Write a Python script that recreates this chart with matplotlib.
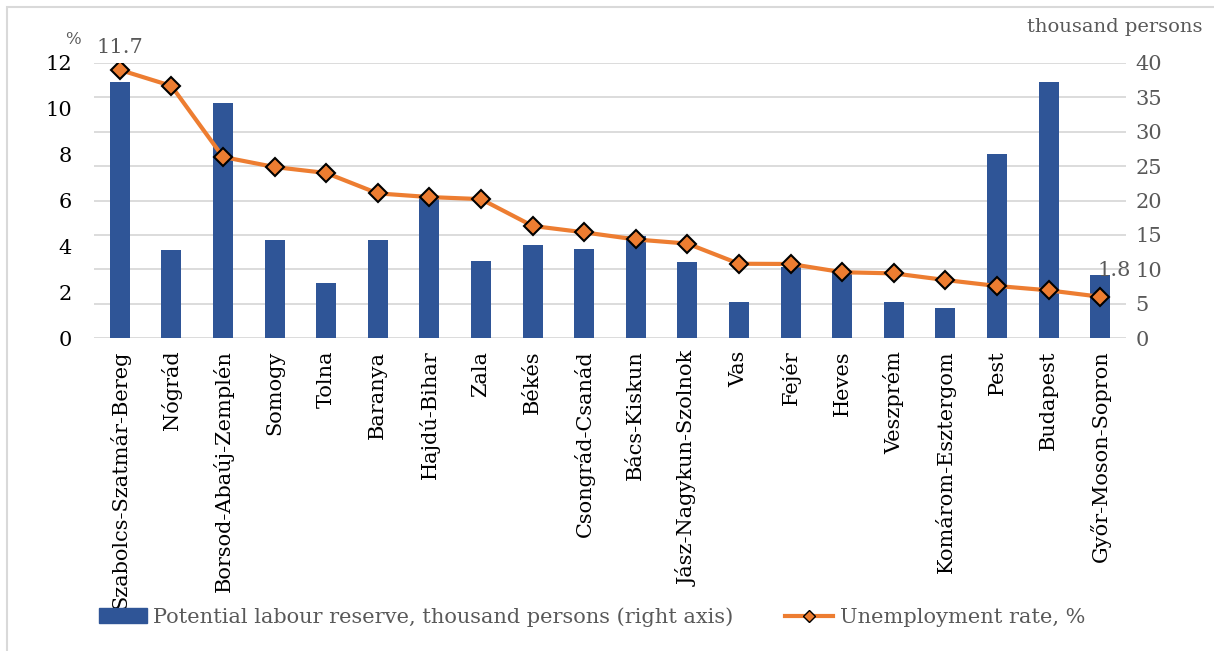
"""
Unemployment rate and potential labour reserve by county
"""

import matplotlib
matplotlib.use('Agg')
import matplotlib.pyplot as plt
from matplotlib.patches import Rectangle
from matplotlib.lines import Line2D
from matplotlib.patches import Patch

counties = ['Szabolcs-Szatmár-Bereg', 'Nógrád', 'Borsod-Abaúj-Zemplén', 'Somogy', 'Tolna',
            'Baranya', 'Hajdú-Bihar', 'Zala', 'Békés', 'Csongrád-Csanád', 'Bács-Kiskun',
            'Jász-Nagykun-Szolnok', 'Vas', 'Fejér', 'Heves', 'Veszprém', 'Komárom-Esztergom',
            'Pest', 'Budapest', 'Győr-Moson-Sopron']

# thousand persons (right axis)
labour_reserve = [37.2, 12.8, 34.2, 14.2, 8.0, 14.3, 20.3, 11.2, 13.6, 13.0,
                  14.8, 11.0, 5.2, 10.4, 9.4, 5.2, 4.3, 26.7, 37.2, 9.1]

# %
unemployment = [11.7, 11.0, 7.9, 7.46, 7.2, 6.31, 6.15, 6.06, 4.89, 4.61,
                4.3, 4.12, 3.24, 3.23, 2.87, 2.82, 2.53, 2.27, 2.08, 1.8]

left_ticks = [0, 2, 4, 6, 8, 10, 12]
right_ticks = [0, 5, 10, 15, 20, 25, 30, 35, 40]

BAR_COLOR = '#2F5597'
LINE_COLOR = '#ED7D31'
GREY = '#595959'
GRID = '#D9D9D9'

plt.rcParams['font.family'] = ['DejaVu Serif']

fig = plt.figure(figsize=(12.14, 6.51), dpi=100)
fig.patches.append(Rectangle((7 / 1214, -0.1), 1.2, (651 - 7) / 651 + 0.1,
                             transform=fig.transFigure, fill=False,
                             edgecolor='#D9D9D9', linewidth=1.5))

# axes area in pixels: left 94, right 1126, top 63, bottom 338
ax = fig.add_axes([94 / 1214, 1 - 338 / 651, (1126 - 94) / 1214, (338 - 63) / 651])
ax2 = ax.twinx()

x = list(range(len(counties)))

# bars on the right axis
ax2.bar(x, labour_reserve, width=0.39, color=BAR_COLOR, zorder=2)
ax2.set_ylim(0, 40)
ax2.set_yticks(right_ticks)
ax2.tick_params(axis='y', length=0, labelsize=15, labelcolor=GREY, pad=7)
for t in right_ticks:
    ax2.axhline(t, color=GRID, linewidth=1.3, zorder=0)

# line on the left axis, drawn above the bars
ax.set_zorder(ax2.get_zorder() + 1)
ax.patch.set_visible(False)
ax.plot(x, unemployment, color=LINE_COLOR, linewidth=3, marker='D', markersize=9,
        markerfacecolor=LINE_COLOR, markeredgecolor='black', markeredgewidth=1.5, zorder=3)
ax.set_ylim(0, 12)
ax.set_yticks(left_ticks)
ax.tick_params(axis='y', length=0, labelsize=15, labelcolor='black', pad=16)
ax.set_xlim(-0.5, len(counties) - 0.5)
ax.set_xticks(x)
ax.set_xticklabels(counties, rotation=90, fontsize=15)
ax.tick_params(axis='x', length=0, pad=9)

for a in (ax, ax2):
    for s in a.spines.values():
        s.set_visible(False)

# data labels for first and last points
ax.annotate(f'{unemployment[0]}', (x[0], unemployment[0]), xytext=(0, 9),
            textcoords='offset points', ha='center', va='bottom', fontsize=15, color=GREY)
ax.annotate(f'{unemployment[-1]}', (x[-1], unemployment[-1]), xytext=(10, 19),
            textcoords='offset points', ha='center', va='center', fontsize=15, color=GREY)

# axis unit labels
fig.text(73 / 1214, 1 - 40 / 651, '%', fontsize=12, color=GREY, ha='center', va='center')
fig.text(1115 / 1214, 1 - 27 / 651, 'thousand persons', fontsize=14, color=GREY,
         ha='center', va='center')

handles = [Patch(color=BAR_COLOR),
           Line2D([0], [0], color=LINE_COLOR, linewidth=3, marker='D', markersize=6,
                  markerfacecolor=LINE_COLOR, markeredgecolor='black')]
labels = ['Potential labour reserve, thousand persons (right axis)', 'Unemployment rate, %']
leg = fig.legend(handles, labels, loc='center', bbox_to_anchor=(592 / 1214, 1 - 617 / 651),
                 ncol=2, frameon=False, fontsize=15, handlelength=2.3, columnspacing=2.5,
                 handletextpad=0.3)
for t in leg.get_texts():
    t.set_color(GREY)

plt.savefig('out.png', dpi=100)
plt.close()
